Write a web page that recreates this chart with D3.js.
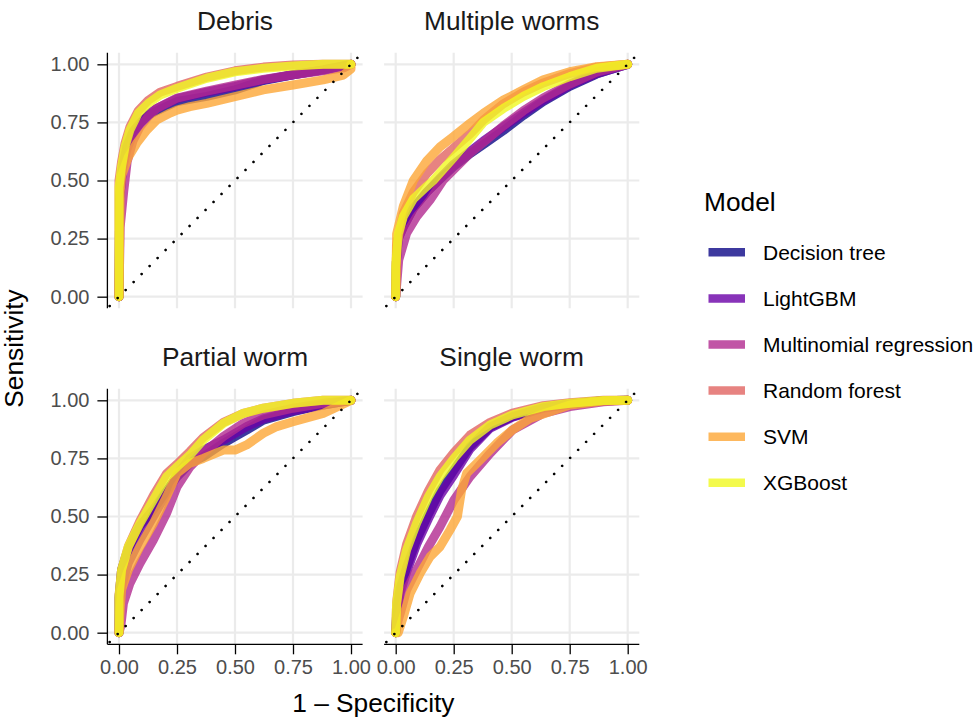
<!DOCTYPE html>
<html>
<head>
<meta charset="utf-8">
<script src="https://cdnjs.cloudflare.com/ajax/libs/d3/7.8.5/d3.min.js"></script>
<style>
  body { margin: 0; background: #fff; }
  text { font-family: "Liberation Sans", Arial, Helvetica, sans-serif; }
</style>
</head>
<body>
<div id="chart"></div>
<script>
// ---- data: [1 - specificity, sensitivity] ----
var models = ["Decision tree", "LightGBM", "Multinomial regression", "Random forest", "SVM", "XGBoost"];
var modelColors = ["#0D0887", "#6A00A8", "#B12A90", "#E16462", "#FCA636", "#F0F921"];
var panelTitles = ["Debris", "Multiple worms", "Partial worm", "Single worm"];
var tickValues = [0, 0.25, 0.5, 0.75, 1];

var debrisDT   = [[0,0],[0.003,0.42],[0.015,0.55],[0.033,0.645],[0.06,0.71],[0.09,0.746],[0.126,0.78],[0.162,0.80],[0.25,0.84],[0.378,0.862],[0.5,0.89],[0.622,0.93],[0.75,0.955],[0.88,0.976],[1,1]];
var debrisLGBM = [[0,0],[0.003,0.42],[0.015,0.55],[0.033,0.63],[0.06,0.70],[0.09,0.745],[0.126,0.785],[0.162,0.81],[0.25,0.852],[0.378,0.88],[0.5,0.905],[0.622,0.933],[0.75,0.955],[0.88,0.976],[1,1]];
var debrisMR   = [[0,0],[0.005,0.3],[0.02,0.45],[0.035,0.58],[0.06,0.67],[0.09,0.73],[0.126,0.775],[0.162,0.81],[0.25,0.855],[0.378,0.885],[0.5,0.91],[0.622,0.935],[0.75,0.955],[0.88,0.972],[0.97,0.985],[1,1]];
var debrisRF   = [[0,0],[0,0.5],[0.011,0.58],[0.026,0.66],[0.047,0.73],[0.083,0.80],[0.126,0.845],[0.177,0.88],[0.25,0.905],[0.378,0.945],[0.5,0.972],[0.622,0.988],[0.75,0.997],[0.88,1],[1,1]];
var debrisSVM  = [[0,0],[0.005,0.45],[0.011,0.52],[0.04,0.6],[0.076,0.66],[0.12,0.717],[0.162,0.76],[0.22,0.79],[0.25,0.803],[0.306,0.818],[0.378,0.832],[0.5,0.861],[0.622,0.89],[0.75,0.911],[0.88,0.933],[0.967,0.954],[1,0.98],[1,1]];
var debrisXGB  = [[0,0],[0,0.47],[0.011,0.56],[0.026,0.645],[0.047,0.717],[0.083,0.79],[0.126,0.832],[0.177,0.868],[0.25,0.897],[0.378,0.94],[0.5,0.968],[0.622,0.983],[0.75,0.993],[0.88,1],[1,1]];

var multiDT   = [[0,0],[0.003,0.15],[0.011,0.25],[0.033,0.30],[0.076,0.38],[0.134,0.45],[0.191,0.505],[0.25,0.56],[0.32,0.615],[0.378,0.655],[0.464,0.715],[0.55,0.78],[0.636,0.84],[0.75,0.905],[0.866,0.958],[1,1]];
var multiLGBM = [[0,0],[0.003,0.15],[0.011,0.25],[0.033,0.30],[0.076,0.38],[0.134,0.45],[0.191,0.51],[0.25,0.57],[0.32,0.625],[0.378,0.67],[0.464,0.73],[0.55,0.79],[0.636,0.845],[0.75,0.91],[0.866,0.96],[1,1]];
var multiMR   = [[0,0],[0.004,0.05],[0.013,0.158],[0.047,0.273],[0.09,0.344],[0.148,0.416],[0.205,0.502],[0.263,0.56],[0.32,0.617],[0.392,0.675],[0.464,0.735],[0.55,0.80],[0.636,0.855],[0.75,0.915],[0.866,0.966],[1,1]];
var multiRF   = [[0,0],[0.004,0.22],[0.033,0.36],[0.076,0.45],[0.134,0.53],[0.191,0.59],[0.25,0.64],[0.32,0.70],[0.378,0.76],[0.464,0.83],[0.55,0.88],[0.636,0.92],[0.75,0.96],[0.866,0.988],[1,1]];
var multiSVM  = [[0,0],[0.004,0.27],[0.033,0.39],[0.076,0.50],[0.134,0.585],[0.191,0.645],[0.25,0.69],[0.32,0.746],[0.378,0.789],[0.464,0.846],[0.55,0.89],[0.636,0.933],[0.75,0.968],[0.866,0.99],[1,1]];
var multiXGB  = [[0,0],[0,0.13],[0.011,0.27],[0.033,0.345],[0.076,0.42],[0.134,0.475],[0.162,0.50],[0.251,0.60],[0.32,0.68],[0.378,0.75],[0.464,0.81],[0.55,0.862],[0.636,0.904],[0.751,0.947],[0.866,0.983],[1,1]];

var partialDT   = [[0,0],[0,0.15],[0.011,0.27],[0.04,0.36],[0.09,0.46],[0.148,0.53],[0.205,0.61],[0.25,0.671],[0.306,0.729],[0.363,0.757],[0.45,0.815],[0.5,0.844],[0.55,0.872],[0.622,0.915],[0.75,0.951],[0.88,0.98],[1,1]];
var partialLGBM = [[0,0],[0.003,0.12],[0.011,0.2],[0.04,0.3],[0.09,0.4],[0.148,0.5],[0.205,0.6],[0.25,0.68],[0.306,0.75],[0.363,0.786],[0.45,0.829],[0.5,0.858],[0.55,0.887],[0.622,0.92],[0.75,0.955],[0.88,0.98],[1,1]];
var partialMR   = [[0,0],[0.008,0.03],[0.019,0.126],[0.047,0.212],[0.09,0.298],[0.148,0.399],[0.205,0.514],[0.25,0.628],[0.306,0.714],[0.363,0.772],[0.45,0.844],[0.536,0.901],[0.622,0.937],[0.75,0.966],[0.88,0.987],[1,1]];
var partialRF   = [[0,0],[0,0.16],[0.011,0.27],[0.04,0.37],[0.09,0.48],[0.148,0.59],[0.205,0.685],[0.25,0.725],[0.306,0.78],[0.363,0.84],[0.45,0.905],[0.536,0.944],[0.622,0.966],[0.75,0.987],[0.88,1],[1,1]];
var partialSVM  = [[0,0],[0.005,0.1],[0.011,0.184],[0.04,0.27],[0.09,0.37],[0.148,0.47],[0.205,0.585],[0.25,0.686],[0.306,0.729],[0.363,0.75],[0.45,0.786],[0.5,0.786],[0.55,0.808],[0.622,0.858],[0.68,0.887],[0.75,0.908],[0.88,0.944],[1,1]];
var partialXGB  = [[0,0],[0,0.155],[0.011,0.27],[0.04,0.37],[0.09,0.47],[0.148,0.571],[0.205,0.671],[0.25,0.714],[0.306,0.765],[0.363,0.829],[0.45,0.901],[0.536,0.944],[0.622,0.966],[0.75,0.987],[0.88,1],[1,1]];

var singleDT   = [[0,0],[0.005,0.1],[0.019,0.19],[0.047,0.28],[0.09,0.40],[0.141,0.51],[0.191,0.61],[0.251,0.70],[0.32,0.80],[0.407,0.885],[0.503,0.93],[0.636,0.968],[0.751,0.985],[0.895,0.998],[1,1]];
var singleLGBM = [[0,0],[0.005,0.08],[0.019,0.17],[0.047,0.26],[0.09,0.38],[0.141,0.49],[0.191,0.59],[0.251,0.68],[0.32,0.79],[0.407,0.88],[0.503,0.927],[0.636,0.966],[0.751,0.984],[0.895,0.998],[1,1]];
var singleMR   = [[0,0],[0.01,0.05],[0.03,0.12],[0.047,0.184],[0.09,0.27],[0.141,0.37],[0.191,0.456],[0.251,0.571],[0.32,0.671],[0.407,0.772],[0.503,0.872],[0.636,0.944],[0.751,0.973],[0.895,0.994],[1,1]];
var singleRF   = [[0,0],[0.004,0.13],[0.019,0.26],[0.047,0.38],[0.09,0.50],[0.141,0.61],[0.191,0.70],[0.251,0.775],[0.32,0.85],[0.407,0.905],[0.503,0.945],[0.636,0.977],[0.751,0.99],[0.895,1],[1,1]];
var singleSVM  = [[0,0],[0.011,0],[0.033,0.069],[0.062,0.169],[0.105,0.255],[0.148,0.327],[0.191,0.37],[0.234,0.442],[0.266,0.5],[0.284,0.614],[0.306,0.686],[0.364,0.743],[0.435,0.815],[0.503,0.872],[0.579,0.922],[0.665,0.951],[0.751,0.98],[0.895,0.997],[1,1]];
var singleXGB  = [[0,0],[0.004,0.126],[0.019,0.241],[0.047,0.356],[0.09,0.471],[0.141,0.585],[0.191,0.671],[0.251,0.75],[0.32,0.829],[0.407,0.894],[0.503,0.937],[0.636,0.973],[0.751,0.987],[0.895,0.999],[1,1]];

var panelSeries = [
    [debrisDT, debrisLGBM, debrisMR, debrisRF, debrisSVM, debrisXGB],
    [multiDT, multiLGBM, multiMR, multiRF, multiSVM, multiXGB],
    [partialDT, partialLGBM, partialMR, partialRF, partialSVM, partialXGB],
    [singleDT, singleLGBM, singleMR, singleRF, singleSVM, singleXGB]
];

// ---- layout ----
var width = 979, height = 719;
var panelW = 255.2, panelH = 255.6;
var colX = [107.4, 384.1];
var rowY = [52.7, 388.7];
var bigFont = 26.3, tickFont = 20, legendFont = 21;

var svg = d3.select("#chart").append("svg")
    .attr("width", width)
    .attr("height", height);

var color = d3.scaleOrdinal().domain(models).range(modelColors);

var line = d3.line();

panelTitles.forEach(function(title, i) {
    var col = i % 2, row = Math.floor(i / 2);
    var x = d3.scaleLinear().domain([-0.05, 1.05]).range([colX[col], colX[col] + panelW]);
    var y = d3.scaleLinear().domain([-0.05, 1.05]).range([rowY[row] + panelH, rowY[row]]);

    var g = svg.append("g");

    // clip to the panel
    g.append("clipPath").attr("id", "clip" + i)
      .append("rect")
        .attr("x", colX[col]).attr("y", rowY[row])
        .attr("width", panelW).attr("height", panelH);

    // gridlines
    g.append("g")
        .selectAll("line.gx").data(tickValues).join("line")
        .attr("x1", d => x(d)).attr("x2", d => x(d))
        .attr("y1", rowY[row]).attr("y2", rowY[row] + panelH)
        .attr("stroke", "#ebebeb").attr("stroke-width", 2.2);
    g.append("g")
        .selectAll("line.gy").data(tickValues).join("line")
        .attr("y1", d => y(d)).attr("y2", d => y(d))
        .attr("x1", colX[col]).attr("x2", colX[col] + panelW)
        .attr("stroke", "#ebebeb").attr("stroke-width", 2.2);

    // ROC curves
    line.x(d => x(d[0])).y(d => y(d[1]));
    g.append("g").attr("clip-path", "url(#clip" + i + ")")
        .selectAll("path").data(panelSeries[i]).join("path")
        .attr("d", line)
        .attr("fill", "none")
        .attr("stroke", (d, k) => color(models[k]))
        .attr("stroke-opacity", 0.8)
        .attr("stroke-width", 9)
        .attr("stroke-linejoin", "round")
        .attr("stroke-linecap", "round");

    // chance diagonal (dotted)
    g.append("line")
        .attr("clip-path", "url(#clip" + i + ")")
        .attr("x1", x(-0.05)).attr("y1", y(-0.05))
        .attr("x2", x(1.05)).attr("y2", y(1.05))
        .attr("stroke", "#000")
        .attr("stroke-width", 2.6)
        .attr("stroke-linecap", "round")
        .attr("stroke-dasharray", "0.01 11.3")
        .attr("stroke-dashoffset", -3.2);

    // strip title
    g.append("text")
        .attr("x", colX[col] + panelW / 2)
        .attr("y", rowY[row] - 22.5)
        .attr("text-anchor", "middle")
        .attr("fill", "#1a1a1a")
        .style("font-size", bigFont + "px")
        .text(title);

    // y axis on left panels
    if (col === 0) {
        var ya = g.append("g")
            .attr("transform", "translate(" + colX[col] + ",0)")
            .call(d3.axisLeft(y).tickValues(tickValues).tickFormat(d3.format(".2f")).tickSize(10).tickSizeOuter(0).tickPadding(8));
        ya.select(".domain").attr("stroke", "#000").attr("stroke-width", 1.3)
            .attr("d", "M0," + rowY[row] + "V" + (rowY[row] + panelH));
        ya.selectAll(".tick line").attr("stroke", "#000").attr("stroke-width", 1.3);
        ya.selectAll(".tick text").attr("fill", "#4d4d4d").style("font-size", tickFont + "px")
            .style("font-family", "Liberation Sans, Arial, sans-serif");
    }

    // x axis on bottom panels
    if (row === 1) {
        var xa = g.append("g")
            .attr("transform", "translate(0," + (rowY[row] + panelH) + ")")
            .call(d3.axisBottom(x).tickValues(tickValues).tickFormat(d3.format(".2f")).tickSize(10).tickSizeOuter(0).tickPadding(6));
        xa.select(".domain").attr("stroke", "#000").attr("stroke-width", 1.3)
            .attr("d", "M" + colX[col] + ",0H" + (colX[col] + panelW));
        xa.selectAll(".tick line").attr("stroke", "#000").attr("stroke-width", 1.3);
        xa.selectAll(".tick text").attr("fill", "#4d4d4d").style("font-size", tickFont + "px")
            .style("font-family", "Liberation Sans, Arial, sans-serif");
    }
});

// axis titles
svg.append("text")
    .attr("x", (colX[0] + colX[1] + panelW) / 2)
    .attr("y", 712)
    .attr("text-anchor", "middle")
    .attr("fill", "#000")
    .style("font-size", bigFont + "px")
    .text("1 \u2013 Specificity");

svg.append("text")
    .attr("transform", "translate(23," + (rowY[0] + rowY[1] + panelH) / 2 + ") rotate(-90)")
    .attr("text-anchor", "middle")
    .attr("fill", "#000")
    .style("font-size", bigFont + "px")
    .text("Sensitivity");

// legend
var legend = svg.append("g").attr("transform", "translate(704,0)");
legend.append("text")
    .attr("x", 0).attr("y", 211)
    .attr("fill", "#000")
    .style("font-size", bigFont + "px")
    .text("Model");

var items = legend.selectAll("g.item").data(models).join("g")
    .attr("transform", (d, k) => "translate(0," + (252.3 + k * 46.1) + ")");
items.append("line")
    .attr("x1", 4.5).attr("x2", 41)
    .attr("stroke", d => color(d))
    .attr("stroke-opacity", 0.8)
    .attr("stroke-width", 8.5);
items.append("text")
    .attr("x", 59).attr("y", 7.5)
    .attr("fill", "#000")
    .style("font-size", legendFont + "px")
    .text(d => d);
</script>
</body>
</html>
